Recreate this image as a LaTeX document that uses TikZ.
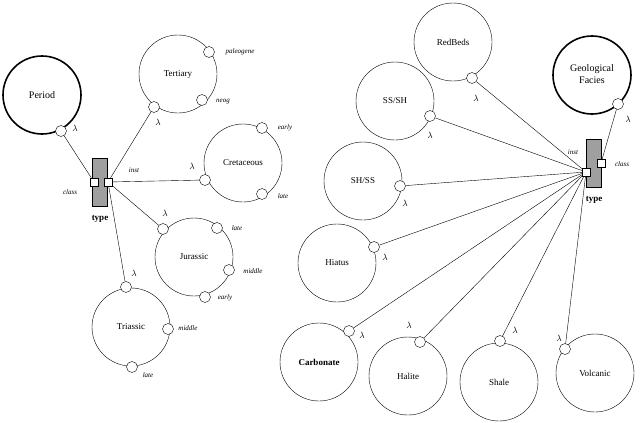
\documentclass[tikz,border=0pt]{standalone}
\usepackage{fontspec}
\setmainfont{Liberation Serif}
\begin{document}
\begin{tikzpicture}[x=1pt, y=-1pt, font=\small,
    topic/.style = {draw, circle, minimum size=78pt, inner sep=0pt},
    root/.style = {topic, line width=1.6pt},
    port/.style = {draw, circle, fill=white, minimum size=11pt, inner sep=0pt},
    sq/.style = {draw, fill=white, minimum size=8pt, inner sep=0pt},
    tag/.style = {font=\scriptsize\itshape},
    typebox/.style = {draw, fill=gray!75, minimum width=15pt, minimum height=48pt, inner sep=0pt}]
    \useasboundingbox (0,0) rectangle (640,423);

    % left: Period
    \node[root] (P) at (42,95) {\normalsize Period};
    \node[port] (Pl) at (61,131) {};
    \node at (75,128) {$\lambda$};
    \node[typebox] (T1) at (100,182) {};
    \node[sq] (T1c) at (94,182) {};
    \node[sq] (T1i) at (108,182) {};
    \node[font=\small\bfseries] at (100,219) {type};
    \node[tag] at (70,192) {class};
    \node[tag] at (134,170) {inst};

    \node[topic] (Ter) at (178,74) {Tertiary};
    \node[port] (Ter1) at (209,52) {};
    \node[port] (Ter2) at (202,100) {};
    \node[port] (Terl) at (154,107) {};
    \node[tag] at (240,52) {paleogene};
    \node[tag] at (223,102) {neog};
    \node at (158,122) {$\lambda$};

    \node[topic] (Cre) at (243,163) {Cretaceous};
    \node[port] (Cre1) at (262,128) {};
    \node[port] (Cre2) at (262,194) {};
    \node[port] (Crel) at (205,180) {};
    \node[tag] at (285,128) {early};
    \node[tag] at (283,196) {late};
    \node at (192,166) {$\lambda$};

    \node[topic] (Jur) at (194,257) {Jurassic};
    \node[port] (Jur1) at (217,228) {};
    \node[port] (Jur2) at (229,270) {};
    \node[port] (Jur3) at (205,297) {};
    \node[port] (Jurl) at (163,229) {};
    \node[tag] at (237,228) {late};
    \node[tag] at (253,271) {middle};
    \node[tag] at (225,298) {early};
    \node at (165,213) {$\lambda$};

    \node[topic] (Tri) at (131,327) {Triassic};
    \node[port] (Tri1) at (168,329) {};
    \node[port] (Tri2) at (132,367) {};
    \node[port] (Tril) at (126,287) {};
    \node[tag] at (188,328) {middle};
    \node[tag] at (148,375) {late};
    \node at (134,273) {$\lambda$};

    \draw (Pl) -- (T1c);
    \foreach \t in {Terl, Crel, Jurl, Tril}
      \draw (T1i) -- (\t);

    % right: Geological Facies
    \node[root] (G) at (592,75) {\normalsize\begin{tabular}{c}Geological\\Facies\end{tabular}};
    \node[port] (Gl) at (618,104) {};
    \node at (628,119) {$\lambda$};
    \node[typebox] (T2) at (594,163) {};
    \node[sq] (T2c) at (601,163) {};
    \node[sq] (T2i) at (586,172) {};
    \node[font=\small\bfseries] at (594,200) {type};
    \node[tag] at (622,164) {class};
    \node[tag] at (573,152) {inst};

    \node[topic] (RB) at (453,42) {RedBeds};
    \node[port] (RBl) at (472,78) {};
    \node at (476,98) {$\lambda$};
    \node[topic] (SSSH) at (395,101) {SS/SH};
    \node[port] (SSSHl) at (430,116) {};
    \node at (430,135) {$\lambda$};
    \node[topic] (SHSS) at (363,181) {SH/SS};
    \node[port] (SHSSl) at (400,186) {};
    \node at (405,203) {$\lambda$};
    \node[topic] (Hia) at (337,263) {Hiatus};
    \node[port] (Hial) at (374,247) {};
    \node at (385,257) {$\lambda$};
    \node[topic] (Car) at (319,362) {\textbf{Carbonate}};
    \node[port] (Carl) at (349,331) {};
    \node at (362,335) {$\lambda$};
    \node[topic] (Hal) at (408,376) {Halite};
    \node[port] (Hall) at (420,342) {};
    \node at (409,325) {$\lambda$};
    \node[topic] (Sha) at (499,382) {Shale};
    \node[port] (Shal) at (500,341) {};
    \node at (515,330) {$\lambda$};
    \node[topic] (Vol) at (595,373) {Volcanic};
    \node[port] (Voll) at (565,349) {};
    \node at (559,338) {$\lambda$};

    \draw (Gl) -- (T2c);
    \foreach \t in {RBl, SSSHl, SHSSl, Hial, Carl, Hall, Shal, Voll}
      \draw (T2i) -- (\t);
\end{tikzpicture}
\end{document}
